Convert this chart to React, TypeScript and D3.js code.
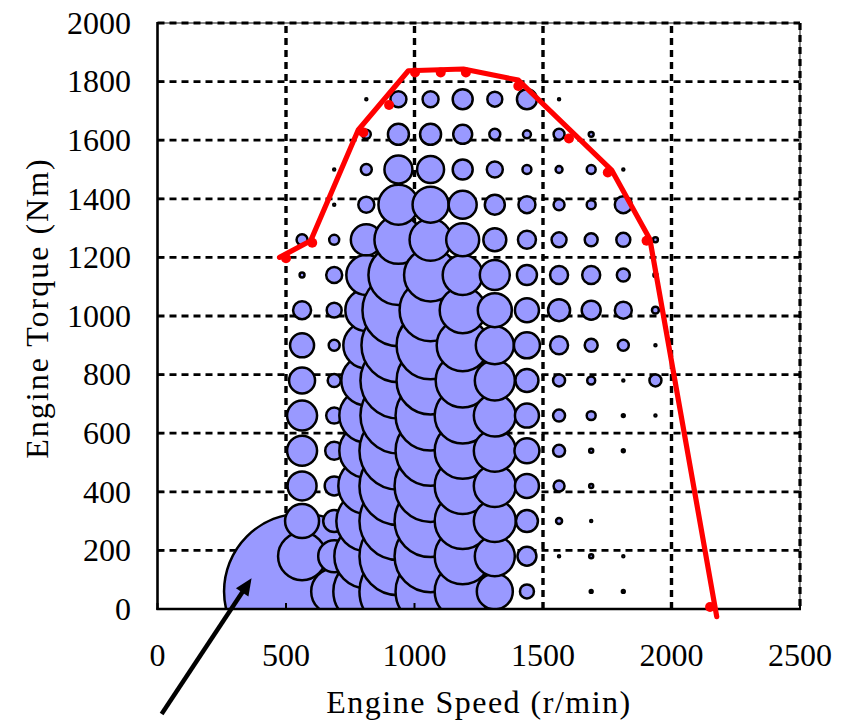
import React from "react";
import * as d3 from "d3";

// Engine speed bins (r/min) and torque bins (Nm) of the operating-point map
const speedBins = [562.5, 687.5, 812.5, 937.5, 1062.5, 1187.5, 1312.5, 1437.5, 1562.5, 1687.5, 1812.5, 1937.5];
const torqueBins = [60, 180, 300, 420, 540, 660, 780, 900, 1020, 1140, 1260, 1380, 1500, 1620, 1740];

// Time share (%) per cell: one row per speed bin, ordered by torque bin
const share562 = [60.84, 5.76, 2.89, 2.10, 2.25, 2.25, 1.69, 1.44, 0.81, 0.06, 0.30, 0, 0, 0, 0];
const share687 = [5.29, 2.56, 1.21, 0.90, 0.81, 0.64, 0.42, 0.30, 0.56, 0.64, 0.25, 0.01, 0.01, 0, 0];
const share812 = [10.89, 10.24, 9.00, 7.84, 7.29, 7.29, 6.25, 5.29, 4.41, 4.00, 2.40, 0.64, 0.30, 0.20, 0.01];
const share937 = [15.21, 15.21, 15.21, 15.21, 15.21, 14.44, 14.44, 13.69, 12.96, 9.00, 5.76, 4.00, 1.96, 1.10, 0.64];
const share1062 = [12.25, 12.96, 12.96, 12.96, 12.25, 12.25, 11.56, 11.56, 9.61, 7.02, 4.41, 3.24, 1.82, 1.10, 0.64];
const share1187 = [7.84, 7.84, 7.84, 7.84, 7.84, 7.84, 7.29, 6.76, 5.29, 4.00, 2.72, 1.96, 1.00, 0.90, 1.00];
const share1312 = [3.24, 4.00, 4.41, 4.41, 4.41, 4.41, 4.00, 3.61, 2.89, 2.25, 1.32, 1.00, 0.64, 0.30, 0.56];
const share1437 = [0.49, 0.90, 1.21, 1.44, 1.56, 1.44, 1.32, 1.69, 1.44, 1.00, 0.81, 0.72, 0.20, 0.16, 1.00];
const share1562 = [0, 0.01, 0.09, 0.30, 0.36, 0.36, 0.36, 0.81, 1.21, 0.81, 0.56, 0.30, 0.12, 0.30, 0.01];
const share1687 = [0.02, 0.04, 0.01, 0.04, 0.04, 0.20, 0.16, 0.42, 0.90, 0.81, 0.42, 0.20, 0.20, 0.06, 0];
const share1812 = [0.02, 0.01, 0, 0, 0.02, 0.02, 0.01, 0.30, 0.72, 0.42, 0.49, 0.72, 0.01, 0, 0];
const share1937 = [0, 0, 0, 0, 0, 0.01, 0.36, 0.01, 0.12, 0.04, 0.06, 0, 0, 0, 0];
const timeShare = [share562, share687, share812, share937, share1062, share1187, share1312, share1437, share1562, share1687, share1812, share1937];

// Full-load torque curve (line) and its measured points (dots)
const fullLoadSpeed = [475, 596, 781, 976, 1190, 1404, 1767, 1916, 2176];
const fullLoadTorque = [1200, 1257, 1635, 1837, 1843, 1805, 1498, 1262, -26];
const pointSpeed = [500, 602, 801, 901, 1002, 1102, 1200, 1404, 1601, 1752, 1903, 2150];
const pointTorque = [1197, 1250, 1626, 1720, 1831, 1831, 1831, 1785, 1606, 1490, 1257, 7];

// Axis ticks
const xTicks = [0, 500, 1000, 1500, 2000, 2500];
const yTicks = [0, 200, 400, 600, 800, 1000, 1200, 1400, 1600, 1800, 2000];

// Arrow annotation (data coordinates): tail -> tip
const arrowSpeed = [16, 366];
const arrowTorque = [-358, 105];

const W = 855;
const H = 721;
const FONT = "'Liberation Serif', 'DejaVu Serif', serif";

export default function App() {
  const x = d3.scaleLinear().domain([0, 2500]).range([157.5, 800]);
  const y = d3.scaleLinear().domain([0, 2000]).range([609, 23]);
  const r = d3.scaleSqrt().domain([0, 1]).range([0, 10]);

  const bubbles: { cx: number; cy: number; rad: number; key: string }[] = [];
  speedBins.forEach((s, i) => {
    torqueBins.forEach((t, j) => {
      const v = timeShare[i][j];
      if (v > 0) bubbles.push({ cx: x(s), cy: y(t), rad: r(v), key: `${i}-${j}` });
    });
  });

  const line = d3
    .line<number>()
    .x((_, i) => x(fullLoadSpeed[i]))
    .y((_, i) => y(fullLoadTorque[i]));

  const [x0, x1] = [x.range()[0], x.range()[1]];
  const [yb, yt] = [y.range()[0], y.range()[1]];

  // arrow geometry
  const ax0 = x(arrowSpeed[0]);
  const ay0 = y(arrowTorque[0]);
  const ax1 = x(arrowSpeed[1]);
  const ay1 = y(arrowTorque[1]);
  const len = Math.hypot(ax1 - ax0, ay1 - ay0);
  const ux = (ax1 - ax0) / len;
  const uy = (ay1 - ay0) / len;
  const headL = 17;
  const headW = 7.5;
  const bx = ax1 - ux * headL;
  const by = ay1 - uy * headL;
  const head = `M${ax1},${ay1} L${bx - uy * headW},${by + ux * headW} L${bx + uy * headW},${by - ux * headW} Z`;

  return (
    <svg
      width={W}
      height={H}
      style={{ position: "absolute", left: 0, top: 0, background: "#fff" }}
      fontFamily={FONT}
    >
      <defs>
        <clipPath id="plotClip">
          <rect x={x0} y={yt} width={x1 - x0} height={yb - yt} />
        </clipPath>
      </defs>

      {/* grid */}
      {xTicks.slice(1, -1).map((t) => (
        <line key={`gx${t}`} x1={x(t)} x2={x(t)} y1={yb} y2={yt} stroke="#000" strokeWidth={3.4} strokeDasharray="7 5" />
      ))}
      {yTicks.slice(1, -1).map((t) => (
        <line key={`gy${t}`} x1={x0} x2={x1} y1={y(t)} y2={y(t)} stroke="#000" strokeWidth={2.8} strokeDasharray="7 5" />
      ))}

      {/* bubbles */}
      <g clipPath="url(#plotClip)">
        {bubbles.map((b) => (
          <circle key={b.key} cx={b.cx} cy={b.cy} r={b.rad} fill="#9999FF" stroke="#000" strokeWidth={2.5} />
        ))}
      </g>

      {/* frame */}
      <line x1={x0} x2={x1} y1={yt} y2={yt} stroke="#888" strokeWidth={2} />
      <line x1={x1} x2={x1} y1={yt} y2={yb} stroke="#888" strokeWidth={2} />
      <line x1={x0} x2={x1} y1={yt} y2={yt} stroke="#000" strokeWidth={2.8} strokeDasharray="7 5" />
      <line x1={x1} x2={x1} y1={yt} y2={yb} stroke="#000" strokeWidth={3.2} strokeDasharray="7 5" />
      <line x1={x0} x2={x0} y1={yt - 1} y2={yb + 1} stroke="#000" strokeWidth={2.6} />
      <line x1={x0 - 1} x2={x1 + 1} y1={yb} y2={yb} stroke="#000" strokeWidth={2.6} />
      {yTicks.map((t) => (
        <line key={`ty${t}`} x1={x0} x2={x0 + 6} y1={y(t)} y2={y(t)} stroke="#000" strokeWidth={2} />
      ))}
      {xTicks.map((t) => (
        <line key={`tx${t}`} x1={x(t)} x2={x(t)} y1={yb} y2={yb - 6} stroke="#000" strokeWidth={2} />
      ))}

      {/* tick labels */}
      {xTicks.map((t) => (
        <text key={`lx${t}`} x={x(t)} y={666} textAnchor="middle" fontSize={32} fill="#000">
          {t}
        </text>
      ))}
      {yTicks.map((t) => (
        <text key={`ly${t}`} x={131} y={y(t)} dy="0.34em" textAnchor="end" fontSize={32} fill="#000">
          {t}
        </text>
      ))}

      {/* axis titles */}
      <text x={479} y={713} textAnchor="middle" fontSize={32} letterSpacing={1.5} fill="#000">
        Engine Speed (r/min)
      </text>
      <text
        transform={`translate(48, ${(yb + yt) / 2 - 8}) rotate(-90)`}
        textAnchor="middle"
        fontSize={32}
        letterSpacing={2}
        fill="#000"
      >
        Engine Torque (Nm)
      </text>

      {/* full load curve */}
      <path d={line(fullLoadSpeed) || ""} fill="none" stroke="#FF0000" strokeWidth={5.2} strokeLinejoin="round" strokeLinecap="round" />
      {pointSpeed.map((s, i) => (
        <circle key={`p${i}`} cx={x(s)} cy={y(pointTorque[i])} r={5} fill="#FF0000" />
      ))}

      {/* arrow */}
      <line x1={ax0} y1={ay0} x2={bx + ux * 2} y2={by + uy * 2} stroke="#000" strokeWidth={4.5} />
      <path d={head} fill="#000" />
    </svg>
  );
}
